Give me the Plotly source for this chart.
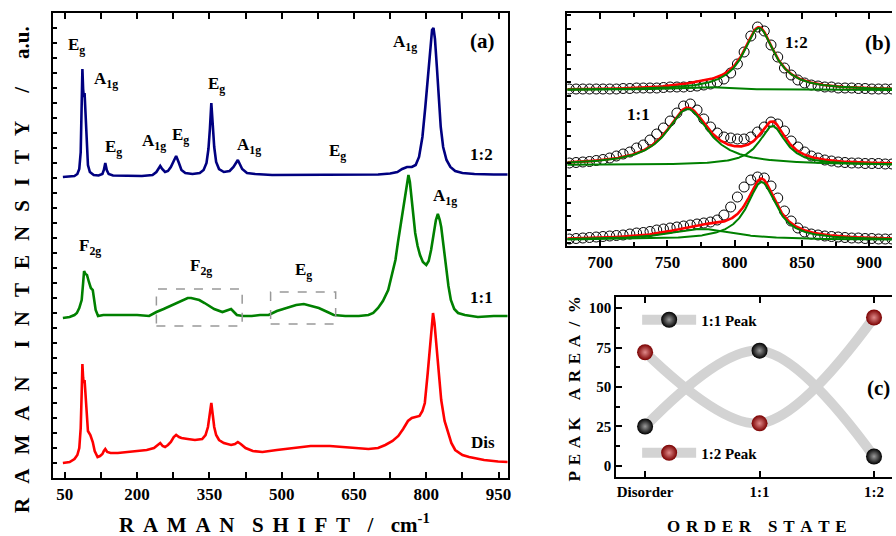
import numpy as np
import plotly.graph_objects as go

FONT = "Liberation Serif"
W, H = 896, 536

# ---------------- (a) Raman spectra (shift in cm-1, intensity above own baseline)
dis_shift = [46, 60, 70, 76, 80, 83, 85, 86.5, 88, 89.5, 91, 93, 95, 98, 103, 108, 112, 118, 123, 128,
             131, 134, 138, 145, 160, 180, 200, 220, 235, 243, 248, 253, 258, 264, 270, 276, 281, 287,
             292, 305, 320, 335, 342, 347, 350, 354, 357, 360, 364, 370, 380, 395, 403, 409, 415, 425,
             440, 460, 490, 520, 560, 600, 630, 660, 680, 700, 715, 730, 742, 752, 762, 770, 778, 786,
             792, 797, 803, 808, 811, 814, 817, 821, 826, 831, 838, 845, 852, 860, 875, 889, 920, 949, 969]
dis_int = [0, 1, 4, 8, 15, 35, 70, 99, 85, 80, 83, 65, 45, 32, 28, 21, 12, 6, 7, 9,
           12, 14, 11, 10, 10, 11, 12, 13, 15, 18, 20, 17, 16, 18, 21, 26, 28, 26,
           25, 24, 23, 24, 28, 36, 45, 60, 48, 36, 28, 23, 20, 18, 19, 21, 19, 15,
           12, 11, 13, 15, 17, 17, 16, 15, 14, 15, 18, 22, 27, 34, 42, 45, 46, 47,
           52, 60, 90, 120, 138, 150, 140, 118, 90, 63, 42, 30, 20, 13, 8, 6, 3, 1.5, 1]

o11_shift = [46, 60, 70, 75, 80, 85, 88, 90, 93, 96, 100, 104, 108, 111, 114, 119, 130, 160, 200, 225,
             240, 255, 273, 290, 305, 312, 320, 329, 340, 349, 360, 377, 388, 395, 401, 407, 420, 438,
             455, 473, 490, 508, 530, 546, 560, 577, 595, 608, 632, 660, 680, 690, 700, 710, 721, 730,
             736, 741, 746, 751, 756, 760, 763, 766, 769, 773, 777, 782, 787, 793, 800, 805, 810, 815,
             820, 824, 828, 831, 836, 841, 846, 851, 858, 866, 880, 907, 940, 969]
o11_int = [0, 1, 3, 5, 10, 18, 35, 47, 44, 43, 36, 30, 28, 18, 8, 2, 3, 3, 3, 2,
           6, 9, 13, 17, 20, 20, 19, 18, 15, 12, 9, 6, 8, 9, 6, 3, 2, 2,
           3, 3, 7, 10, 13, 14, 12, 10, 6, 3, 2, 2, 3, 5, 10, 17, 28, 45,
           58, 75, 91, 106, 120, 136, 143, 136, 120, 100, 85, 72, 63, 56, 53, 57, 68, 83,
           98, 104, 98, 91, 70, 51, 32, 18, 9, 5, 3, 1, 2, 2]

o12_shift = [46, 60, 70, 76, 80, 83, 85, 86.5, 88, 89.5, 91, 93, 95, 98, 102, 110, 120, 128, 131, 134,
             137, 141, 150, 180, 210, 232, 240, 244, 248, 252, 258, 264, 270, 276, 281, 286, 292, 300,
             315, 330, 338, 344, 348, 351, 354, 357, 360, 364, 370, 380, 392, 400, 405, 409, 413, 418,
             428, 445, 480, 540, 600, 660, 700, 725, 740, 750, 760, 770, 778, 785, 792, 798, 803, 808,
             812, 815, 818, 822, 826, 830, 835, 842, 850, 860, 875, 900, 940, 969]
o12_int = [0, 0.5, 1, 3, 8, 25, 70, 108, 88, 80, 84, 60, 30, 12, 5, 2, 1.5, 3, 7, 14,
           7, 3, 1.5, 1, 1, 2, 5, 8, 11, 8, 5, 6, 10, 16, 21, 15, 7, 4,
           3, 4, 7, 14, 28, 48, 74, 52, 30, 15, 8, 5, 6, 10, 14, 17, 13, 8,
           4, 3, 2, 2, 2.5, 2, 2.5, 3.5, 5, 8, 10, 10, 12, 20, 40, 70, 100, 130,
           147, 149, 138, 110, 78, 50, 30, 17, 10, 6, 4, 3, 2.5, 2.5]

stack_a = {"Dis": 15, "1:1": 160, "1:2": 301}

# highlighted broad bands on the 1:1 spectrum (x-range, y-range)
band_boxes = [((240, 418), (152, 189)), ((477, 612), (154, 186))]

# ---------------- (b) fits of the 700-920 cm-1 region
circ_shift = list(range(677, 918, 5))
circ_12 = [1, 1, 1, 1, 1, 1, 1, 1, 1.5,
           1.5, 2, 2, 2, 2, 2.5, 3, 3, 3, 3.5,
           4, 5, 6, 8, 11, 17, 26, 38, 54, 63,
           59, 45, 33, 22, 15, 10, 7, 5, 4, 3,
           3, 2, 2, 2, 1.5, 1.5, 1, 1, 1, 1]
circ_11 = [2, 2.5, 3, 3.5, 4.5, 5.5, 7, 9, 11,
           13, 17, 20, 25, 31, 37, 44, 52, 59, 61,
           55, 46, 38, 32, 28, 27, 26, 26, 28, 33,
           38, 43, 41, 34, 24, 18, 13, 9, 7, 5,
           4, 3, 2.5, 2, 2, 1.5, 1.5, 1.5, 1, 1]
circ_dis = [1, 1.5, 2, 2.5, 3, 3.5, 4, 4.5, 5,
            6, 7, 7.5, 8.5, 10, 11, 12, 13, 14, 15,
            16, 17, 18, 20, 25, 33, 43, 53, 60, 63,
            62, 54, 42, 29, 19, 12, 8, 6, 5, 4,
            3.5, 3, 2.5, 2, 2, 1.5, 1.5, 1, 1, 1]

# Lorentzian components: (centre cm-1, height, half width)
fit_12 = [(818, 62, 14), (775, 3, 25)]
fit_11 = [(765, 56, 19), (828, 39, 12)]
fit_dis = [(820, 58, 13), (775, 11, 30)]
stack_b = {"Dis": 6, "1:1": 81, "1:2": 156}

# ---------------- (c) relative peak areas
order_states = ["Disorder", "1:1", "1:2"]
area_11_peak = [25, 73, 6]
area_12_peak = [72, 27, 94]


def paper(px, py):
    return px / W, 1 - py / H


def lorentz(x, c, h, w):
    return h / (1 + ((x - c) / w) ** 2)


fig = go.Figure()

# ---- panel (a)
for name, xs, ys, col in [("Dis", dis_shift, dis_int, "#ff0000"),
                          ("1:1", o11_shift, o11_int, "#008000"),
                          ("1:2", o12_shift, o12_int, "#000080")]:
    fig.add_trace(go.Scatter(x=xs, y=[v + stack_a[name] for v in ys], mode="lines",
                             line=dict(color=col, width=2.6), xaxis="x", yaxis="y",
                             showlegend=False, hoverinfo="skip"))

for (x0, x1), (y0, y1) in band_boxes:
    fig.add_shape(type="rect", xref="x", yref="y", x0=x0, x1=x1, y0=y0, y1=y1,
                  line=dict(color="#999999", width=1.5, dash="dash"))

# ---- panel (b)
xfit = np.linspace(675, 920, 491)
for name, circ, comps in [("1:2", circ_12, fit_12), ("1:1", circ_11, fit_11), ("Dis", circ_dis, fit_dis)]:
    base = stack_b[name]
    fig.add_trace(go.Scatter(x=circ_shift, y=[v + base for v in circ], mode="markers",
                             marker=dict(symbol="circle-open", size=10, color="black",
                                         line=dict(width=1)),
                             xaxis="x2", yaxis="y2", showlegend=False, hoverinfo="skip"))
    total = sum(lorentz(xfit, *c) for c in comps) + base
    fig.add_trace(go.Scatter(x=xfit, y=total, mode="lines", line=dict(color="#ff0000", width=2.6),
                             xaxis="x2", yaxis="y2", showlegend=False, hoverinfo="skip"))
    for c in comps:
        fig.add_trace(go.Scatter(x=xfit, y=lorentz(xfit, *c) + base, mode="lines",
                                 line=dict(color="#008000", width=2),
                                 xaxis="x2", yaxis="y2", showlegend=False, hoverinfo="skip"))

# ---- panel (c)
for vals, col, glow, lbl, lg in [(area_11_peak, "#000000", "#9a9a9a", "1:1 Peak", "legend"),
                                 (area_12_peak, "#7a0000", "#e08a8a", "1:2 Peak", "legend2")]:
    fig.add_trace(go.Scatter(x=[0, 1, 2], y=vals, mode="lines+markers", name=lbl, legend=lg,
                             line=dict(color="#d3d3d3", width=10, shape="spline"),
                             marker=dict(size=16, color=col,
                                         gradient=dict(type="radial", color=glow)),
                             xaxis="x3", yaxis="y3", hoverinfo="skip"))

bold = dict(family=FONT, color="black", weight="bold")

common_axis = dict(showline=True, linecolor="black", linewidth=2, ticks="inside",
                   tickcolor="black", tickwidth=1.5, showgrid=False, zeroline=False)

ann = []


def label(text, px, py, size=17, **kw):
    x, y = paper(px, py)
    ann.append(dict(text=text, x=x, y=y, xref="paper", yref="paper", showarrow=False,
                    xanchor="center", yanchor="middle", font=dict(size=size, **bold), **kw))


def spaced(words, gap, word_gap):
    return word_gap.join(gap.join(w) for w in words)


for t, px, py in [("E<sub>g</sub>", 77, 46), ("A<sub>1g</sub>", 106, 80), ("E<sub>g</sub>", 114, 148),
                  ("A<sub>1g</sub>", 155, 142), ("E<sub>g</sub>", 181, 136), ("E<sub>g</sub>", 217, 85),
                  ("A<sub>1g</sub>", 250, 146), ("E<sub>g</sub>", 339, 152), ("A<sub>1g</sub>", 407, 43),
                  ("A<sub>1g</sub>", 447, 197), ("F<sub>2g</sub>", 90, 247), ("F<sub>2g</sub>", 202, 267),
                  ("E<sub>g</sub>", 305, 271)]:
    label(t, px, py)

label("(a)", 485, 41, 21)
label("1:2", 484, 154)
label("1:1", 484, 297)
label("Dis", 485, 442)
label("1:2", 800, 43)
label("1:1", 641, 114)
label("(b)", 882, 43, 21)
label("(c)", 882, 388, 21)

gx = "\u2005\u2006"
label(spaced(["RAMAN", "SHIFT", "/"], gx, gx * 2) + gx * 2 + "cm<sup>-1</sup>", 276, 523, 21)
gy = "\u2002\u200a\u200a"
label(spaced(["RAMAN", "INTENSITY", "/"], gy, gy * 2) + gy * 2 + "a.u.", 22, 269, 21, textangle=-90)
gc = "\u2004"
label(spaced(["PEAK", "AREA"], gc, "\u2002\u2002") + "\u2002/\u2002%", 577, 389, 17, textangle=-90)
label(spaced(["ORDER", "STATE"], gc, "\u2002\u2002"), 760, 526, 17)

fig.update_layout(
    width=W, height=H, margin=dict(l=0, r=0, t=0, b=0),
    paper_bgcolor="white", plot_bgcolor="white",
    annotations=ann,
    xaxis=dict(domain=[53 / W, 510 / W], range=[25, 969], anchor="y",
               tickvals=[50, 200, 350, 500, 650, 800, 950], ticklen=6, mirror="ticks",
               minor=dict(dtick=75, tick0=50, ticks="inside", ticklen=6, tickwidth=1.5, tickcolor="black"),
               tickfont=dict(size=17, **bold), **common_axis),
    yaxis=dict(domain=[1 - 478 / H, 1 - 13 / H], range=[0, 465], anchor="x",
               showticklabels=False, dtick=15, tick0=14.7, ticklen=4, mirror=True, **common_axis),
    xaxis2=dict(domain=[570 / W, 1.0], range=[675.6, 917], anchor="y2",
                tickvals=[700, 750, 800, 850, 900], ticklen=6, mirror="ticks",
                minor=dict(dtick=25, tick0=700, ticks="inside", ticklen=4, tickwidth=1.5, tickcolor="black"),
                tickfont=dict(size=17, **bold), **common_axis),
    yaxis2=dict(domain=[1 - 246 / H, 1 - 13 / H], range=[0, 233], anchor="x2",
                showticklabels=False, dtick=13.4, tick0=3, ticklen=4, **common_axis),
    xaxis3=dict(domain=[619 / W, 1.0], range=[-0.252, 2.157], anchor="y3",
                tickvals=[0, 1, 2], ticktext=order_states, ticklen=6, mirror="ticks",
                tickfont=dict(size=15, **bold), **common_axis),
    yaxis3=dict(domain=[1 - 477 / H, 1 - 297 / H], range=[-7, 107], anchor="x3",
                tickvals=[0, 25, 50, 75, 100], ticklen=6,
                minor=dict(dtick=12.5, ticks="inside", ticklen=4, tickwidth=1.5, tickcolor="black"),
                tickfont=dict(size=15, **bold), **common_axis),
    legend=dict(x=640 / W, y=1 - 320 / H, xanchor="left", yanchor="middle",
                bgcolor="rgba(0,0,0,0)", itemwidth=54, font=dict(size=15, **bold)),
    legend2=dict(x=640 / W, y=1 - 453 / H, xanchor="left", yanchor="middle",
                 bgcolor="rgba(0,0,0,0)", itemwidth=54, font=dict(size=15, **bold)),
)

fig.write_html("out.html")
